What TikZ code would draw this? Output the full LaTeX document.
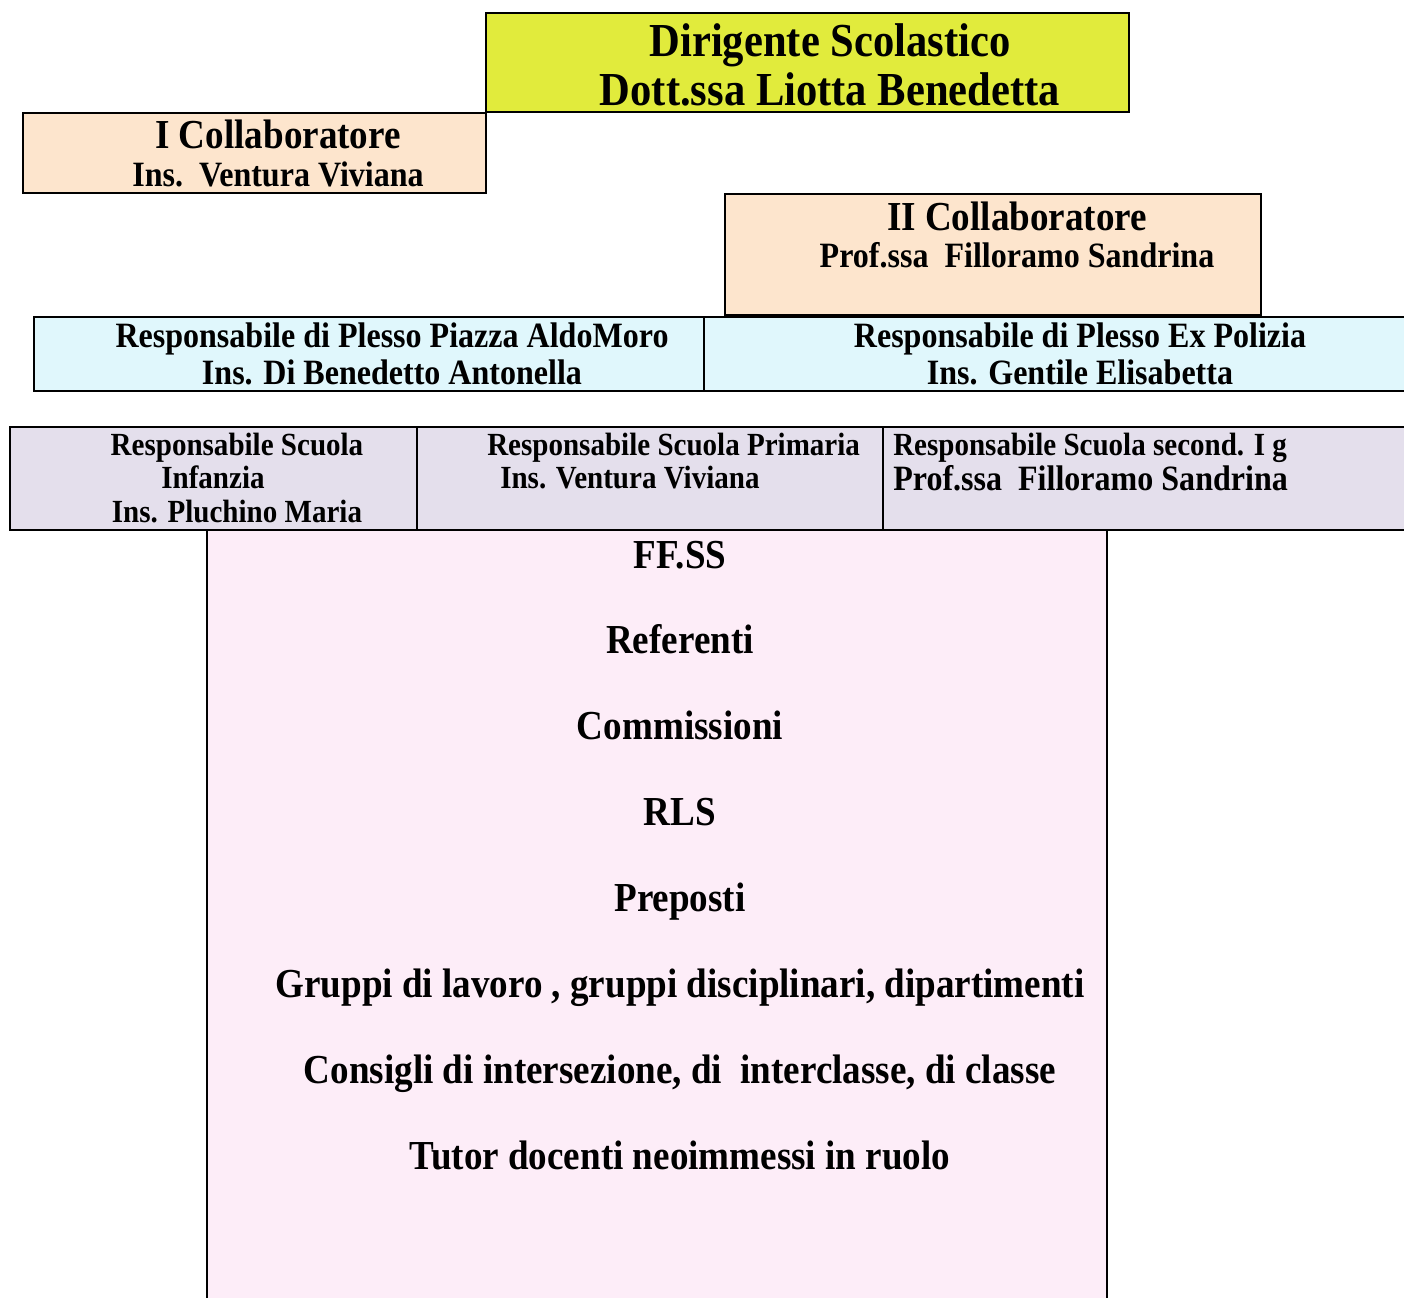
\documentclass[tikz,border=0pt]{standalone}
\usepackage{fontspec}
\setmainfont[FakeStretch=0.9]{Liberation Serif}
\usetikzlibrary{fit}
\definecolor{dirfill}{HTML}{E1EB3C}
\definecolor{collfill}{HTML}{FDE5CD}
\definecolor{plessofill}{HTML}{E0F7FC}
\definecolor{scuolafill}{HTML}{E4DFEC}
\definecolor{listfill}{HTML}{FDEDF8}
\newcommand{\myfs}[1]{\fontsize{#1}{#1}\selectfont\bfseries}
\tikzset{
  box/.style={draw=black, line width=1.5pt, inner sep=0pt},
  txt/.style={anchor=base, inner sep=0pt, font=\myfs{26.7pt}},
  txtw/.style={anchor=base west, inner sep=0pt, font=\myfs{24.2pt}},
  big/.style={font=\myfs{35.5pt}},
  mid/.style={font=\myfs{30.9pt}},
  nrm/.style={font=\myfs{26.7pt}},
  sml/.style={font=\myfs{24.2pt}},
}
\begin{document}
\begin{tikzpicture}[x=0.75pt,y=-0.75pt]
\useasboundingbox (0,0) rectangle (1404,1297);
\clip (0,0) rectangle (1404,1297);
% boxes
\node[box, fill=listfill, fit={(207,530)(1107,1320)}] (list) {};
\node[box, fill=dirfill, fit={(486,13)(1129,112)}] (dir) {};
\node[box, fill=collfill, fit={(23,113)(486,193)}] (coll1) {};
\node[box, fill=collfill, fit={(725,194)(1261,315)}] (coll2) {};
\node[box, fill=plessofill, fit={(34,317)(704,391)}] (pl1) {};
\node[box, fill=plessofill, fit={(704,317)(1456,391)}] (pl2) {};
\node[box, fill=scuolafill, fit={(10,427)(417,530)}] (sc1) {};
\node[box, fill=scuolafill, fit={(417,427)(883,530)}] (sc2) {};
\node[box, fill=scuolafill, fit={(883,427)(1460,530)}] (sc3) {};
% Dirigente
\node[txt, big] (dirA) at (830,56) {Dirigente Scolastico};
\node[txt, big] (dirB) at (830,105) {Dott.ssa Liotta Benedetta};
% Collaboratori
\node[txt, mid] (c1A) at (278,148) {I Collaboratore};
\node[txt, nrm] (c1B) at (278,186) {Ins.\ \ Ventura Viviana};
\node[txt, mid] (c2A) at (1017,230) {II Collaboratore};
\node[txt, nrm] (c2B) at (1017,267) {Prof.ssa\ \ Filloramo Sandrina};
% Plessi
\node[txt, nrm] (p1A) at (392,347) {Responsabile di Plesso Piazza AldoMoro};
\node[txt, nrm] (p1B) at (392,384) {Ins. Di Benedetto Antonella};
\node[txt, nrm] (p2A) at (1080,347) {Responsabile di Plesso Ex Polizia};
\node[txt, nrm] (p2B) at (1080,384) {Ins. Gentile Elisabetta};
% Scuole
\node[txt, sml] (s1A) at (237,455) {Responsabile Scuola};
\node[txt, sml] (s1B) at (213,488) {Infanzia};
\node[txt, sml] (s1C) at (237,522) {Ins. Pluchino Maria};
\node[txtw] (s2A) at (487,455) {Responsabile Scuola Primaria};
\node[txtw] (s2B) at (500,488) {Ins. Ventura Viviana};
\node[txtw] (s3A) at (893,455) {Responsabile Scuola second. I g};
\node[txtw, nrm] (s3B) at (893,490) {Prof.ssa\ \ Filloramo Sandrina};
% List
\node[txt, mid] (l1) at (680,568) {FF.SS};
\node[txt, mid] (l2) at (680,653) {Referenti};
\node[txt, mid] (l3) at (680,739) {Commissioni};
\node[txt, mid] (l4) at (680,825) {RLS};
\node[txt, mid] (l5) at (680,911) {Preposti};
\node[txt, mid] (l6) at (680,997) {Gruppi di lavoro , gruppi disciplinari, dipartimenti};
\node[txt, mid] (l7) at (680,1083) {Consigli di intersezione, di\ \ interclasse, di classe};
\node[txt, mid] (l8) at (680,1169) {Tutor docenti neoimmessi in ruolo};
\end{tikzpicture}
\end{document}
